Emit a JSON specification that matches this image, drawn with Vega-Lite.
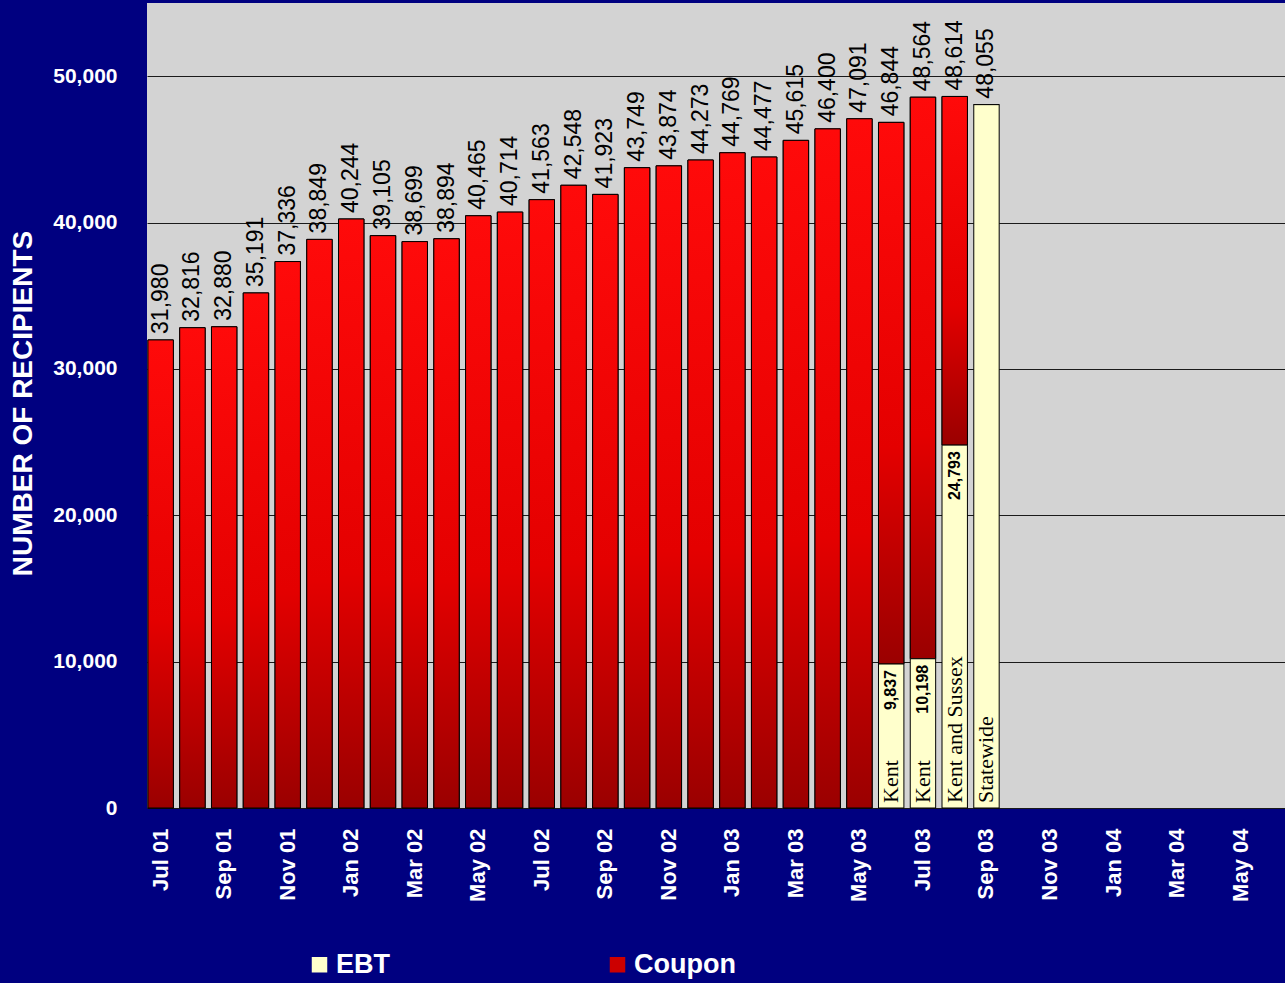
{
  "$schema": "https://vega.github.io/schema/vega-lite/v6.json",
  "width": 1139,
  "height": 805,
  "autosize": {"type": "none"},
  "padding": {"left": 147, "top": 3, "right": 0, "bottom": 175},
  "background": "#000080",
  "config": {
    "view": {"fill": "#D3D3D3", "stroke": null},
    "font": "Liberation Sans"
  },
  "data": {
    "values": [
      {"month": "Jul 01", "total": 31980, "ebt": 0, "region": ""},
      {"month": "Aug 01", "total": 32816, "ebt": 0, "region": ""},
      {"month": "Sep 01", "total": 32880, "ebt": 0, "region": ""},
      {"month": "Oct 01", "total": 35191, "ebt": 0, "region": ""},
      {"month": "Nov 01", "total": 37336, "ebt": 0, "region": ""},
      {"month": "Dec 01", "total": 38849, "ebt": 0, "region": ""},
      {"month": "Jan 02", "total": 40244, "ebt": 0, "region": ""},
      {"month": "Feb 02", "total": 39105, "ebt": 0, "region": ""},
      {"month": "Mar 02", "total": 38699, "ebt": 0, "region": ""},
      {"month": "Apr 02", "total": 38894, "ebt": 0, "region": ""},
      {"month": "May 02", "total": 40465, "ebt": 0, "region": ""},
      {"month": "Jun 02", "total": 40714, "ebt": 0, "region": ""},
      {"month": "Jul 02", "total": 41563, "ebt": 0, "region": ""},
      {"month": "Aug 02", "total": 42548, "ebt": 0, "region": ""},
      {"month": "Sep 02", "total": 41923, "ebt": 0, "region": ""},
      {"month": "Oct 02", "total": 43749, "ebt": 0, "region": ""},
      {"month": "Nov 02", "total": 43874, "ebt": 0, "region": ""},
      {"month": "Dec 02", "total": 44273, "ebt": 0, "region": ""},
      {"month": "Jan 03", "total": 44769, "ebt": 0, "region": ""},
      {"month": "Feb 03", "total": 44477, "ebt": 0, "region": ""},
      {"month": "Mar 03", "total": 45615, "ebt": 0, "region": ""},
      {"month": "Apr 03", "total": 46400, "ebt": 0, "region": ""},
      {"month": "May 03", "total": 47091, "ebt": 0, "region": ""},
      {"month": "Jun 03", "total": 46844, "ebt": 9837, "region": "Kent"},
      {"month": "Jul 03", "total": 48564, "ebt": 10198, "region": "Kent"},
      {"month": "Aug 03", "total": 48614, "ebt": 24793, "region": "Kent and Sussex"},
      {"month": "Sep 03", "total": 48055, "ebt": 48055, "region": "Statewide"}
    ]
  },
  "encoding": {
    "x": {
      "field": "month",
      "type": "ordinal",
      "sort": null,
      "scale": {
        "domain": ["Jul 01","Aug 01","Sep 01","Oct 01","Nov 01","Dec 01","Jan 02","Feb 02","Mar 02","Apr 02","May 02","Jun 02","Jul 02","Aug 02","Sep 02","Oct 02","Nov 02","Dec 02","Jan 03","Feb 03","Mar 03","Apr 03","May 03","Jun 03","Jul 03","Aug 03","Sep 03","Oct 03","Nov 03","Dec 03","Jan 04","Feb 04","Mar 04","Apr 04","May 04","Jun 04"],
        "paddingInner": 0.2,
        "paddingOuter": 0.03
      },
      "axis": {
        "values": ["Jul 01","Sep 01","Nov 01","Jan 02","Mar 02","May 02","Jul 02","Sep 02","Nov 02","Jan 03","Mar 03","May 03","Jul 03","Sep 03","Nov 03","Jan 04","Mar 04","May 04"],
        "title": null,
        "labelAngle": -90,
        "labelAlign": "right",
        "labelBaseline": "middle",
        "labelColor": "white",
        "labelFont": "Liberation Sans",
        "labelFontWeight": "bold",
        "labelFontSize": 22,
        "labelPadding": 20,
        "ticks": false,
        "domain": false,
        "grid": false
      }
    },
    "y": {
      "field": "total",
      "type": "quantitative",
      "scale": {"domain": [0, 55000], "nice": false},
      "axis": {
        "title": "NUMBER OF RECIPIENTS",
        "titleColor": "white",
        "titleFont": "Liberation Sans",
        "titleFontSize": 28,
        "titleFontWeight": "bold",
        "titleX": -124,
        "titleY": 400,
        "titleAngle": 270,
        "titleAlign": "center",
        "titleBaseline": "middle",
        "values": [0, 10000, 20000, 30000, 40000, 50000],
        "labelExpr": "format(datum.value, ',')",
        "labelColor": "white",
        "labelFont": "Liberation Sans",
        "labelFontSize": 21,
        "labelFontWeight": "bold",
        "labelPadding": 30,
        "ticks": false,
        "domain": false,
        "grid": true,
        "gridColor": "#1A1A1A",
        "gridWidth": 1,
        "gridOpacity": 1
      }
    }
  },
  "layer": [
    {
      "mark": {"type": "bar", "stroke": "#000000", "strokeWidth": 1},
      "encoding": {
        "y2": {"field": "ebt"},
        "color": {
          "datum": "Coupon",
          "type": "nominal",
          "scale": {"domain": ["EBT", "Coupon"], "range": ["#FFFFCC", "#CC0000"]},
          "legend": {
            "title": null,
            "orient": "none",
            "legendX": 159,
            "legendY": 948,
            "direction": "horizontal",
            "columns": 2,
            "columnPadding": 214,
            "labelColor": "white",
            "labelFont": "Liberation Sans",
            "labelFontSize": 27,
            "labelFontWeight": "bold",
            "labelOffset": 3,
            "symbolType": "square",
            "symbolSize": 240,
            "symbolStrokeWidth": 0
          }
        }
      }
    },
    {
      "mark": {
        "type": "bar",
        "stroke": "#000000",
        "strokeWidth": 1,
        "color": {
          "gradient": "linear",
          "x1": 0, "y1": 0, "x2": 0, "y2": 1,
          "stops": [
            {"offset": 0, "color": "#FF0A0A"},
            {"offset": 0.6, "color": "#E40000"},
            {"offset": 1, "color": "#9A0000"}
          ]
        }
      },
      "encoding": {
        "y2": {"field": "ebt"}
      }
    },
    {
      "transform": [{"filter": "datum.ebt > 0"}],
      "mark": {"type": "bar", "stroke": "#000000", "strokeWidth": 1},
      "encoding": {
        "y": {"field": "ebt", "type": "quantitative"},
        "color": {"datum": "EBT", "type": "nominal"}
      }
    },
    {
      "mark": {
        "type": "text",
        "angle": 270,
        "align": "left",
        "baseline": "middle",
        "dx": 6,
        "font": "Liberation Sans",
        "fontSize": 23,
        "color": "#000000"
      },
      "encoding": {
        "text": {"field": "total", "type": "quantitative", "format": ","}
      }
    },
    {
      "transform": [{"filter": "datum.ebt > 0 && datum.month != 'Sep 03'"}],
      "mark": {
        "type": "text",
        "angle": 270,
        "align": "right",
        "baseline": "middle",
        "dx": -6,
        "font": "Liberation Sans",
        "fontSize": 16,
        "fontWeight": "bold",
        "color": "#000000"
      },
      "encoding": {
        "y": {"field": "ebt", "type": "quantitative"},
        "text": {"field": "ebt", "type": "quantitative", "format": ","}
      }
    },
    {
      "transform": [{"filter": "datum.ebt > 0"}],
      "mark": {
        "type": "text",
        "angle": 270,
        "align": "left",
        "baseline": "middle",
        "dx": 5,
        "font": "Liberation Serif",
        "fontSize": 22,
        "color": "#000000"
      },
      "encoding": {
        "y": {"datum": 0, "type": "quantitative"},
        "text": {"field": "region", "type": "nominal"}
      }
    }
  ]
}
